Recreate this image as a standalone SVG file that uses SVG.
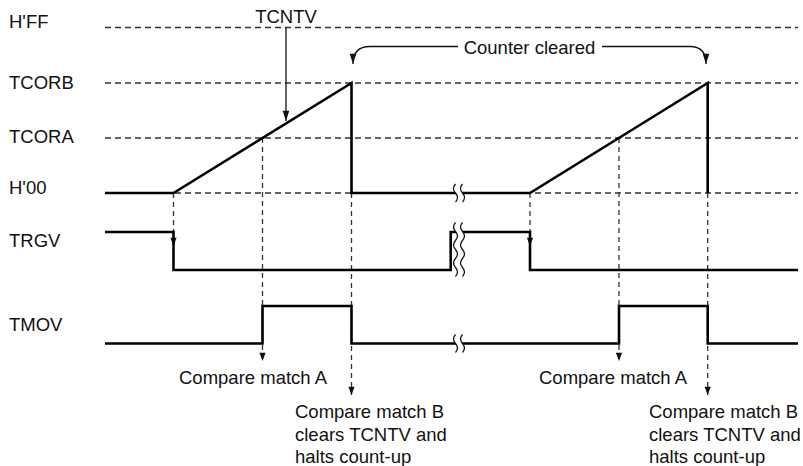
<svg xmlns="http://www.w3.org/2000/svg" width="803" height="466" viewBox="0 0 803 466">
<style>
text{font-family:"Liberation Sans",Arial,sans-serif;font-size:18.5px;fill:#111}
.ref{stroke:#333;stroke-width:1.3;stroke-dasharray:6 4;fill:none}
.vd{stroke:#333;stroke-width:1.3;stroke-dasharray:5 4;fill:none}
.sig{stroke:#000;stroke-width:2.6;fill:none;stroke-linejoin:miter}
.thin{stroke:#111;stroke-width:1.3;fill:none}
.wave{stroke:#111;stroke-width:1.3;fill:none}
.gap{fill:#fff;stroke:none}
</style>
<defs>
<marker id="ah" markerUnits="userSpaceOnUse" markerWidth="10" markerHeight="10" viewBox="-8 -4 9 8" refX="0" refY="0" orient="auto">
<path d="M0,0 L-7.5,-2.8 L-7.5,2.8 Z" fill="#111"/>
</marker>
<marker id="ahl" markerUnits="userSpaceOnUse" markerWidth="12" markerHeight="10" viewBox="-10 -4 11 8" refX="0" refY="0" orient="auto">
<path d="M0,0 L-9.5,-3 L-9.5,3 Z" fill="#111"/>
</marker>
<g id="brkS">
<path class="gap" d="M-3.5,-9 q-4,4.5 0,9 q4,4.5 0,9 L3.5,9 q4,-4.5 0,-9 q-4,-4.5 0,-9 Z"/>
<path class="wave" d="M-3.5,-9 q-4,4.5 0,9 q4,4.5 0,9 M3.5,-9 q-4,4.5 0,9 q4,4.5 0,9"/>
</g>
<g id="brkL">
<path class="gap" d="M-3.5,-27 q-4,4.5 0,9 q4,4.5 0,9 q-4,4.5 0,9 q4,4.5 0,9 q-4,4.5 0,9 q4,4.5 0,9 L3.5,27 q4,-4.5 0,-9 q-4,-4.5 0,-9 q4,-4.5 0,-9 q-4,-4.5 0,-9 q4,-4.5 0,-9 q-4,-4.5 0,-9 Z"/>
<path class="wave" d="M-3.5,-27 q-4,4.5 0,9 q4,4.5 0,9 q-4,4.5 0,9 q4,4.5 0,9 q-4,4.5 0,9 q4,4.5 0,9 M3.5,-27 q-4,4.5 0,9 q4,4.5 0,9 q-4,4.5 0,9 q4,4.5 0,9 q-4,4.5 0,9 q4,4.5 0,9"/>
</g>
</defs>
<rect width="803" height="466" fill="#fff"/>

<g id="labels">
<text x="9" y="28.3">H'FF</text>
<text x="9" y="89.3">TCORB</text>
<text x="9" y="143">TCORA</text>
<text x="9" y="194.3">H'00</text>
<text x="9" y="246.5">TRGV</text>
<text x="9" y="330.5">TMOV</text>
</g>

<g id="reference-levels">
<line class="ref" x1="105" y1="27.5" x2="798" y2="27.5"/>
<line class="ref" x1="105" y1="83" x2="798" y2="83"/>
<line class="ref" x1="105" y1="138" x2="798" y2="138"/>
<line class="ref" x1="105" y1="193" x2="798" y2="193"/>
</g>

<g id="connectors">
<line class="vd" x1="173.5" y1="193" x2="173.5" y2="246" marker-end="url(#ah)"/>
<line class="vd" x1="262.5" y1="138" x2="262.5" y2="361" marker-end="url(#ah)"/>
<line class="vd" x1="351.5" y1="193" x2="351.5" y2="395" marker-end="url(#ah)"/>
<line class="vd" x1="530" y1="193" x2="530" y2="246" marker-end="url(#ah)"/>
<line class="vd" x1="619" y1="138" x2="619" y2="361" marker-end="url(#ah)"/>
<line class="vd" x1="707.7" y1="193" x2="707.7" y2="395" marker-end="url(#ah)"/>
<line class="thin" x1="286" y1="28" x2="286" y2="121" marker-end="url(#ahl)"/>
<path class="thin" d="M458,46.5 H370 Q353,46.5 353,64" marker-end="url(#ahl)"/>
<path class="thin" d="M602,46.5 H690 Q706,46.5 706,64" marker-end="url(#ahl)"/>
</g>

<g id="tcntv">
<path class="sig" d="M105,193 H173.5 L351.5,83 V193 H530 L707.7,83 V193"/>
<use href="#brkS" x="459" y="193"/>
</g>

<g id="trgv">
<path class="sig" d="M105,232 H173.5 V270 H450.7 V232 H530 V270 H798"/>
<use href="#brkL" x="459" y="249.5"/>
</g>

<g id="tmov">
<path class="sig" d="M105,343.5 H262.5 V306 H351.5 V343.5 H619 V306 H707.7 V343.5 H798"/>
<use href="#brkS" x="459" y="343.5"/>
</g>

<g id="annotations">
<text x="286" y="23" text-anchor="middle">TCNTV</text>
<text x="529.5" y="54" text-anchor="middle">Counter cleared</text>
<text x="179" y="384">Compare match A</text>
<text x="539" y="384">Compare match A</text>
<text x="295" y="418">Compare match B</text>
<text x="295" y="440.5">clears TCNTV and</text>
<text x="295" y="463">halts count-up</text>
<text x="649" y="418">Compare match B</text>
<text x="649" y="440.5">clears TCNTV and</text>
<text x="649" y="463">halts count-up</text>
</g>
</svg>
